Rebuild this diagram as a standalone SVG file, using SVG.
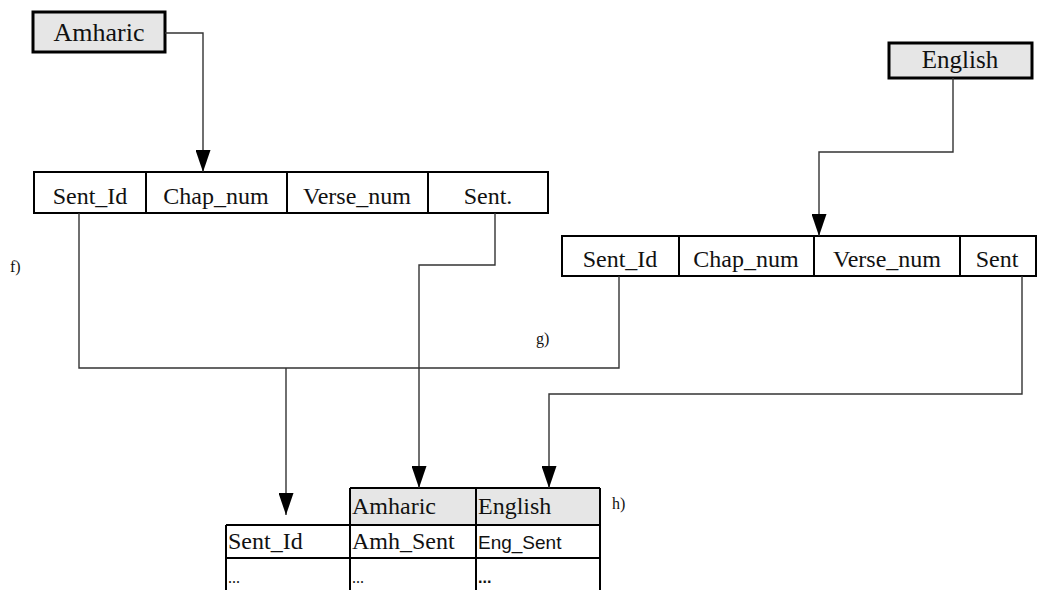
<svg xmlns="http://www.w3.org/2000/svg" width="1044" height="590" viewBox="0 0 1044 590">
  <style>
    .t { font-family: "Liberation Serif", "Times New Roman", serif; fill: #111; }
    .s { font-family: "Liberation Sans", Arial, sans-serif; fill: #111; }
    .lang { fill: #e6e6e6; stroke: #000; stroke-width: 3; }
    .cell { fill: #fff; stroke: #000; stroke-width: 2; }
    .hdr { fill: #e6e6e6; stroke: none; }
    .grid { stroke: #000; stroke-width: 2; fill: none; }
    .conn { stroke: #333; stroke-width: 1.4; fill: none; }
    .lbl { font-size: 16px; }
  </style>
  <defs>
    <!-- solid triangular head, drawn along +x so orient="auto" follows the line -->
    <marker id="arrow" viewBox="0 0 22 15" refX="22" refY="7.5" markerWidth="22" markerHeight="15" markerUnits="userSpaceOnUse" orient="auto">
      <path d="M0,0 L22,7.5 L0,15 Z" fill="#000"/>
    </marker>
  </defs>

  <!-- language source boxes -->
  <g id="amharic-source">
    <rect class="lang" x="33" y="12" width="132" height="40"/>
    <text class="t" x="99" y="41" font-size="26" text-anchor="middle">Amharic</text>
  </g>
  <g id="english-source">
    <rect class="lang" x="889" y="43" width="143" height="35"/>
    <text class="t" x="960" y="68" font-size="25" text-anchor="middle">English</text>
  </g>

  <!-- Amharic record table -->
  <g id="amharic-table">
    <rect class="cell" x="34" y="172" width="514" height="41"/>
    <line class="grid" x1="146" y1="172" x2="146" y2="213"/>
    <line class="grid" x1="287" y1="172" x2="287" y2="213"/>
    <line class="grid" x1="428" y1="172" x2="428" y2="213"/>
    <text class="t" x="90" y="204" font-size="24" text-anchor="middle">Sent_Id</text>
    <text class="t" x="216" y="204" font-size="24" text-anchor="middle">Chap_num</text>
    <text class="t" x="357" y="204" font-size="24" text-anchor="middle">Verse_num</text>
    <text class="t" x="488" y="204" font-size="24" text-anchor="middle">Sent.</text>
  </g>

  <!-- English record table -->
  <g id="english-table">
    <rect class="cell" x="562" y="236" width="474" height="40"/>
    <line class="grid" x1="679" y1="236" x2="679" y2="276"/>
    <line class="grid" x1="814" y1="236" x2="814" y2="276"/>
    <line class="grid" x1="960" y1="236" x2="960" y2="276"/>
    <text class="t" x="620" y="267" font-size="24" text-anchor="middle">Sent_Id</text>
    <text class="t" x="746" y="267" font-size="24" text-anchor="middle">Chap_num</text>
    <text class="t" x="887" y="267" font-size="24" text-anchor="middle">Verse_num</text>
    <text class="t" x="997" y="267" font-size="24" text-anchor="middle">Sent</text>
  </g>

  <!-- parallel corpus table -->
  <g id="parallel-table">
    <rect class="hdr" x="350" y="488" width="250" height="37"/>
    <line class="grid" x1="350" y1="488" x2="600" y2="488"/>
    <line class="grid" x1="226" y1="525" x2="600" y2="525"/>
    <line class="grid" x1="226" y1="558" x2="600" y2="558"/>
    <line class="grid" x1="226" y1="525" x2="226" y2="590"/>
    <line class="grid" x1="350" y1="488" x2="350" y2="590"/>
    <line class="grid" x1="476" y1="488" x2="476" y2="590"/>
    <line class="grid" x1="600" y1="488" x2="600" y2="590"/>
    <text class="t" x="352" y="514" font-size="24">Amharic</text>
    <text class="t" x="478" y="514" font-size="24">English</text>
    <text class="t" x="228" y="549" font-size="24">Sent_Id</text>
    <text class="t" x="352" y="549" font-size="24">Amh_Sent</text>
    <text class="s" x="478" y="549" font-size="19">Eng_Sent</text>
    <text class="t" x="228" y="583" font-size="16">...</text>
    <text class="t" x="352" y="583" font-size="16">...</text>
    <text class="s" x="478" y="583" font-size="16" font-weight="bold">...</text>
  </g>

  <!-- step labels -->
  <g id="labels">
    <text class="t lbl" x="10" y="272">f)</text>
    <text class="t lbl" x="536" y="344">g)</text>
    <text class="t lbl" x="612" y="509">h)</text>
  </g>

  <!-- connectors -->
  <g id="connectors">
    <polyline class="conn" points="165,33 203,33 203,172" marker-end="url(#arrow)"/>
    <polyline class="conn" points="953,78 953,152 819,152 819,236" marker-end="url(#arrow)"/>
    <polyline class="conn" points="79,213 79,368 619,368 619,276"/>
    <line class="conn" x1="286" y1="368" x2="286" y2="515" marker-end="url(#arrow)"/>
    <polyline class="conn" points="495,213 495,265 419,265 419,488" marker-end="url(#arrow)"/>
    <polyline class="conn" points="1022,276 1022,394 549,394 549,488" marker-end="url(#arrow)"/>
  </g>
</svg>
